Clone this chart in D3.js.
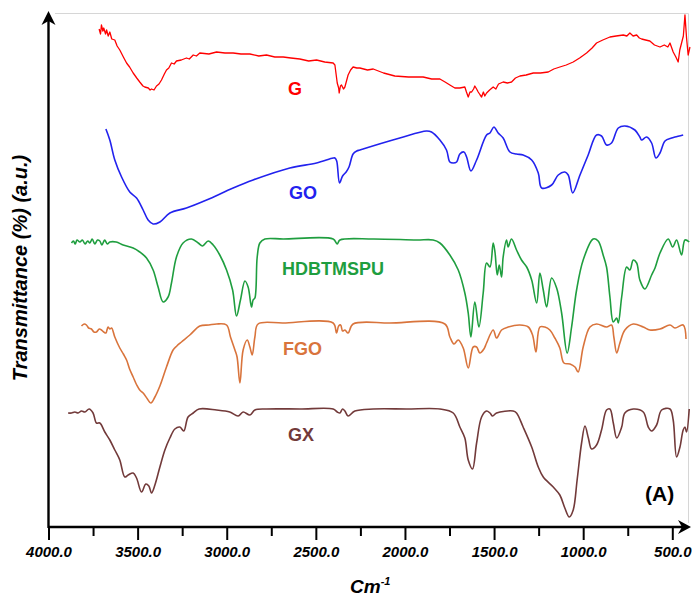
<!DOCTYPE html>
<html>
<head>
<meta charset="utf-8">
<script src="https://cdn.jsdelivr.net/npm/d3@7"></script>
<style>
	body { margin: 0; background: #fff; }
	text { font-family: "Liberation Sans", Arial, sans-serif; }
</style>
</head>
<body>
<svg id="chart" width="692" height="596"></svg>
<script>
// FTIR spectra: [wavenumber (cm-1), transmittance (a.u., stacked)]
var seriesNames = ["G", "GO", "HDBTMSPU", "FGO", "GX"];
var seriesColors = ["#ff0000", "#2222ee", "#1f9e3f", "#d9743c", "#723a3a"];

var G_data = [[3716,497],[3708,492],[3703,501],[3695,495],[3690,498],[3680,492],[3674,496],[3665,490],[3656,494],[3645,487],[3628,486],[3615,480],[3600,476],[3580,469],[3562,463],[3545,459],[3525,453],[3505,448],[3488,444],[3470,440],[3460,439],[3440,438],[3430,436],[3422,437],[3408,436],[3394,440],[3380,442],[3366,446],[3350,452],[3338,456],[3325,458],[3310,463],[3295,462],[3282,465],[3255,466],[3226,468],[3210,467],[3188,471],[3170,470],[3151,473],[3100,472],[3057,474],[3010,473],[2964,473],[2920,472],[2870,472],[2820,470],[2777,471],[2730,469],[2683,469],[2640,468],[2590,467],[2540,465],[2496,466],[2450,464],[2403,463],[2393,461],[2380,443],[2372,438],[2369,433],[2362,440],[2356,441],[2345,437],[2337,439],[2319,451],[2305,456],[2291,459],[2270,458],[2253,458],[2210,456],[2178,457],[2120,453],[2057,450],[1980,449],[1898,449],[1850,447],[1804,447],[1775,444],[1748,441],[1720,438],[1692,438],[1664,439],[1655,434],[1645,429],[1635,434],[1626,434],[1615,437],[1608,440],[1598,437],[1589,434],[1578,431],[1570,429],[1560,434],[1552,430],[1542,433],[1525,436],[1505,439],[1490,437],[1475,442],[1449,444],[1425,443],[1402,444],[1380,448],[1355,450],[1320,451],[1280,453],[1240,453],[1196,454],[1165,457],[1131,459],[1095,461],[1056,464],[1020,468],[981,473],[950,478],[925,483],[890,486],[850,489],[815,490],[775,491],[755,490],[738,493],[720,490],[700,491],[685,488],[672,487],[650,486],[626,485],[600,481],[569,479],[545,481],[525,479],[513,483],[495,474],[480,469],[467,464],[458,476],[448,483],[438,490],[429,511],[420,488],[411,471],[401,479]];

var GO_data = [[3678,397],[3656,386],[3628,366],[3590,349],[3544,334],[3506,328],[3469,316],[3441,306],[3413,302],[3375,304],[3319,313],[3226,318],[3113,326],[2964,338],[2852,346],[2646,358],[2496,363],[2403,368],[2393,368],[2383,365],[2367,343],[2350,350],[2330,354],[2314,359],[2291,372],[2270,375],[2253,376],[2029,388],[1879,395],[1851,394],[1804,386],[1767,376],[1748,364],[1729,363],[1710,364],[1692,372],[1669,374],[1654,369],[1630,355],[1598,366],[1542,391],[1523,393],[1501,399],[1477,393],[1449,388],[1411,374],[1374,372],[1337,371],[1289,366],[1252,353],[1233,338],[1177,341],[1140,351],[1103,354],[1084,351],[1059,333],[1018,351],[972,371],[925,391],[897,390],[869,381],[841,383],[803,398],[766,400],[710,396],[682,389],[672,386],[644,389],[616,383],[592,368],[569,373],[541,385],[504,388],[485,389],[439,391]];

var HDB_data = [[3871,283],[3860,285],[3850,282],[3840,286],[3824,284],[3810,286],[3795,282],[3780,285],[3768,283],[3755,287],[3740,282],[3725,286],[3712,285],[3700,281],[3685,286],[3670,282],[3656,284],[3620,284],[3581,281],[3525,278],[3488,274],[3450,268],[3413,256],[3385,239],[3357,224],[3329,229],[3310,243],[3282,269],[3245,283],[3198,287],[3160,283],[3136,280],[3104,285],[3076,281],[3039,271],[3001,256],[2967,236],[2945,210],[2923,226],[2898,245],[2880,239],[2861,219],[2852,226],[2842,228],[2829,269],[2814,283],[2786,287],[2683,287],[2403,287],[2380,282],[2365,286],[2178,287],[1935,286],[1842,286],[1804,283],[1748,271],[1701,256],[1664,233],[1645,213],[1630,189],[1608,224],[1585,199],[1561,233],[1542,263],[1523,259],[1505,283],[1495,274],[1482,251],[1471,261],[1458,249],[1449,269],[1430,286],[1421,279],[1402,287],[1374,276],[1346,266],[1317,259],[1289,246],[1261,223],[1243,253],[1224,236],[1205,219],[1177,248],[1149,238],[1121,213],[1090,173],[1065,199],[1037,236],[1000,266],[944,287],[916,285],[888,271],[869,259],[850,229],[831,204],[812,208],[803,203],[784,229],[756,259],[738,256],[719,266],[700,263],[682,246],[654,237],[616,251],[597,258],[569,273],[523,287],[498,279],[476,286],[448,271],[429,286],[405,284]];

var FGO_data = [[3815,200],[3800,202],[3787,201],[3775,198],[3759,197],[3745,194],[3731,194],[3715,197],[3703,196],[3690,194],[3678,193],[3666,199],[3656,197],[3646,198],[3628,189],[3600,178],[3580,172],[3562,166],[3545,157],[3525,149],[3505,141],[3488,136],[3469,133],[3445,127],[3426,123],[3403,129],[3375,140],[3338,159],[3301,176],[3280,180],[3254,184],[3207,191],[3151,200],[3100,201],[3057,202],[3001,201],[2979,189],[2954,176],[2942,169],[2926,143],[2908,176],[2885,186],[2870,179],[2857,171],[2842,189],[2824,202],[2683,203],[2403,203],[2384,193],[2372,200],[2361,201],[2350,195],[2337,196],[2319,193],[2291,202],[2085,203],[1776,202],[1748,189],[1725,182],[1701,186],[1673,178],[1645,158],[1617,179],[1598,179],[1580,173],[1557,177],[1542,183],[1505,196],[1486,188],[1458,196],[1421,199],[1355,201],[1308,199],[1284,191],[1265,174],[1243,199],[1215,199],[1187,196],[1159,188],[1131,178],[1108,163],[1074,162],[1046,159],[1028,154],[1000,179],[962,199],[925,202],[869,199],[841,201],[828,189],[812,173],[794,183],[766,196],[719,202],[663,199],[626,196],[569,197],[513,201],[485,198],[439,201],[423,187]];

var GX_data = [[3890,113],[3871,113],[3852,114],[3834,113],[3815,115],[3796,114],[3772,117],[3750,113],[3731,103],[3712,103],[3684,94],[3656,86],[3628,76],[3600,66],[3572,49],[3553,51],[3525,53],[3506,48],[3478,34],[3454,42],[3437,40],[3422,33],[3403,41],[3375,59],[3347,76],[3319,88],[3291,97],[3263,99],[3241,95],[3217,109],[3188,113],[3155,117],[3057,116],[2983,114],[2936,110],[2908,114],[2870,111],[2842,116],[2777,117],[2590,117],[2403,117],[2380,114],[2365,113],[2350,117],[2337,115],[2319,110],[2281,115],[2178,117],[1991,117],[1804,117],[1729,113],[1692,99],[1664,88],[1645,66],[1621,57],[1598,83],[1570,109],[1542,115],[1523,113],[1508,110],[1486,113],[1393,115],[1374,113],[1337,99],[1289,79],[1252,59],[1224,49],[1168,39],[1131,31],[1103,18],[1078,9],[1056,16],[1034,46],[1009,83],[990,100],[971,88],[953,77],[925,81],[897,96],[869,116],[850,117],[831,103],[812,88],[784,99],[766,113],[719,117],[663,114],[635,99],[616,95],[588,101],[560,116],[513,117],[495,106],[476,69],[457,79],[439,96],[429,99],[420,94],[405,117]];

var seriesData = [G_data, GO_data, HDB_data, FGO_data, GX_data];
// label anchor for each trace, in data units
var labelWn = [2656, 2650, 2690, 2684, 2656];
var labelT = [431, 327, 251, 171, 85];

var xTicks = [4000, 3500, 3000, 2500, 2000, 1500, 1000, 500];
var xMinorTicks = [3750, 3250, 2750, 2250, 1750, 1250, 750];

var svg = d3.select("#chart");

// scales
var x = d3.scaleLinear().domain([4000, 500]).range([48.5, 672.3]);
var y = d3.scaleLinear().domain([0, 500]).range([526, 26]);
var axisY = 527;

// light frame
svg.append("path")
	.attr("d", "M55,13.5H688.5V" + (axisY - 4))
	.attr("fill", "none")
	.attr("stroke", "#d6d6d6")
	.attr("stroke-width", 1);

// spectra (G is noisy -> straight segments, the others smoothed)
var rawLine = d3.line()
	.x(function(d) { return x(d[0]); })
	.y(function(d) { return y(d[1]); });
var smoothLine = d3.line()
	.x(function(d) { return x(d[0]); })
	.y(function(d) { return y(d[1]); })
	.curve(d3.curveCatmullRom.alpha(0.5));

seriesData.forEach(function(data, i) {
	svg.append("path")
		.datum(data)
		.attr("d", i == 0 ? rawLine : smoothLine)
		.attr("fill", "none")
		.attr("stroke", seriesColors[i])
		.attr("stroke-width", i == 0 ? 1.3 : 1.6)
		.attr("stroke-linejoin", "round");

	svg.append("text")
		.attr("x", x(labelWn[i]))
		.attr("y", y(labelT[i]))
		.attr("fill", seriesColors[i])
		.style("font-size", "18px")
		.style("font-weight", "bold")
		.text(seriesNames[i]);
});

// x axis
var xAxis = d3.axisBottom(x)
	.tickValues(xTicks)
	.tickSize(13)
	.tickFormat(d3.format(".1f"));

var gx = svg.append("g")
	.attr("transform", "translate(0," + axisY + ")")
	.call(xAxis);
gx.select(".domain").remove();
gx.selectAll(".tick line").attr("stroke", "#000").attr("stroke-width", 2);
gx.selectAll(".tick text")
	.attr("y", 25)
	.attr("dy", "0.35em")
	.attr("fill", "#000")
	.style("font-size", "15px")
	.style("font-weight", "bold")
	.style("font-style", "italic")
	.style("font-family", "'Liberation Sans', Arial, sans-serif");

var gxMinor = svg.append("g")
	.attr("transform", "translate(0," + axisY + ")")
	.call(d3.axisBottom(x).tickValues(xMinorTicks).tickSize(9).tickFormat(""));
gxMinor.select(".domain").remove();
gxMinor.selectAll(".tick line").attr("stroke", "#000").attr("stroke-width", 2);

// axis lines with arrows
svg.append("line")
	.attr("x1", x(4000)).attr("y1", axisY)
	.attr("x2", 684).attr("y2", axisY)
	.attr("stroke", "#000").attr("stroke-width", 2.4);
svg.append("path")
	.attr("d", "M691," + axisY + "L678," + (axisY - 7) + "L682," + axisY + "L678," + (axisY + 7) + "Z")
	.attr("fill", "#000");

svg.append("line")
	.attr("x1", x(4000)).attr("y1", axisY + 1)
	.attr("x2", x(4000)).attr("y2", 20)
	.attr("stroke", "#000").attr("stroke-width", 2.4);
svg.append("path")
	.attr("d", "M" + x(4000) + ",11L" + (x(4000) - 7) + ",25L" + x(4000) + ",21L" + (x(4000) + 7) + ",25Z")
	.attr("fill", "#000");

// axis titles
var xt = svg.append("text")
	.attr("x", 350)
	.attr("y", 593)
	.style("font-size", "19px")
	.style("font-weight", "bold")
	.style("font-style", "italic")
	.text("Cm");
xt.append("tspan")
	.attr("dy", -8)
	.style("font-size", "11px")
	.text("-1");

svg.append("text")
	.attr("transform", "translate(27,268) rotate(-90)")
	.attr("text-anchor", "middle")
	.style("font-size", "20px")
	.style("font-weight", "bold")
	.style("font-style", "italic")
	.text("Transmittance (%) (a.u.)");

// panel letter
svg.append("text")
	.attr("x", 645)
	.attr("y", 501)
	.style("font-size", "21px")
	.style("font-weight", "bold")
	.text("(A)");
</script>
</body>
</html>
